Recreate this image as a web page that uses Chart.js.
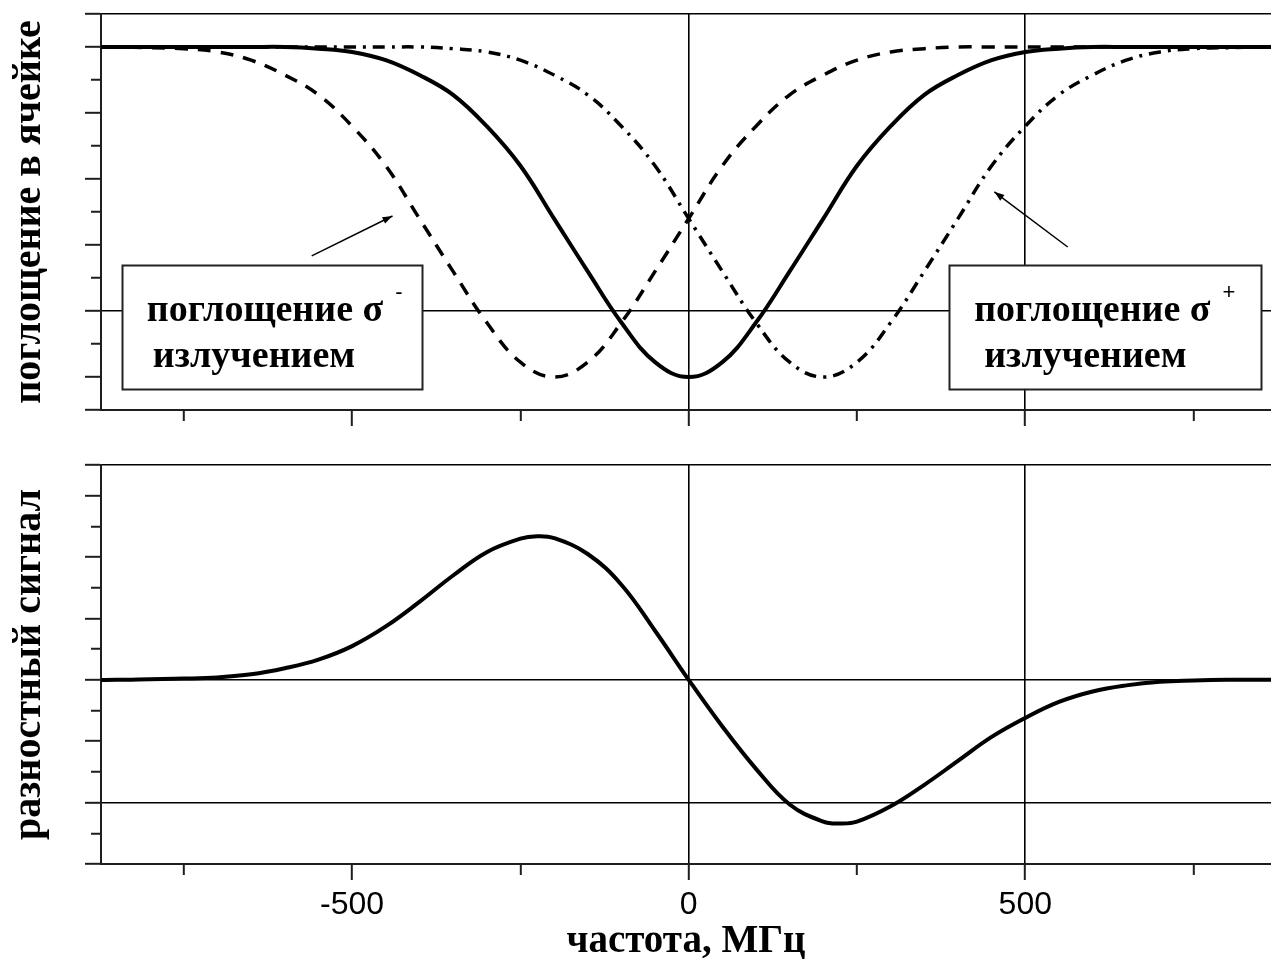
<!DOCTYPE html>
<html><head><meta charset="utf-8">
<script src="https://cdn.jsdelivr.net/npm/chart.js@4/dist/chart.umd.min.js"></script>
<style>
html,body{margin:0;padding:0;background:#fff;}
#wrap{position:relative;width:1271px;height:965px;overflow:hidden;background:#fff;}
#c1{position:absolute;left:0;top:0;}
#c2{position:absolute;left:0;top:440px;}
</style></head><body>
<div id="wrap"><canvas id="c1" width="1271" height="440"></canvas><canvas id="c2" width="1271" height="525"></canvas></div>
<script>
// ---- data ----
const freqs = [-900,-850,-800,-750,-700,-650,-600,-550,-500,-450,-400,-350,-300,-250,-200,-150,-100,-50,0,50,100,150,200,250,300,350,400,450,500,550,600,650,700,750,800,850,900];
const absSolid = [1,1,1,1,1,1,1,0.995,0.985,0.96,0.915,0.855,0.76,0.64,0.48,0.32,0.165,0.045,0,0.045,0.165,0.32,0.48,0.64,0.76,0.855,0.915,0.96,0.985,0.995,1,1,1,1,1,1,1];
const absSigmaMinus = [1,1,0.998,0.995,0.985,0.96,0.915,0.855,0.76,0.64,0.48,0.32,0.165,0.045,0,0.045,0.165,0.32,0.48,0.64,0.76,0.855,0.915,0.96,0.985,0.995,1,1,1,1,1,1,1,1,1,1,1];
const absSigmaPlus = [1,1,1,1,1,1,1,1,1,1,1,0.995,0.985,0.96,0.915,0.855,0.76,0.64,0.48,0.32,0.165,0.045,0,0.045,0.165,0.32,0.48,0.64,0.76,0.855,0.915,0.96,0.985,0.995,0.998,1,1];
const diffFreqs = [-900,-850,-800,-750,-700,-650,-600,-550,-500,-450,-400,-350,-300,-250,-225,-200,-150,-100,-50,0,50,100,150,200,225,250,300,350,400,450,500,550,600,650,700,750,800,850,900];
const diffSignal = [0,0,0.01,0.02,0.04,0.09,0.19,0.33,0.55,0.87,1.27,1.70,2.08,2.30,2.34,2.31,2.05,1.55,0.80,0,-0.76,-1.45,-2.03,-2.31,-2.34,-2.31,-2.06,-1.71,-1.32,-0.93,-0.62,-0.36,-0.19,-0.09,-0.03,-0.01,0,0,0];
const xTickValues = [-750, -500, -250, 0, 250, 500, 750];
const xTickLabels = [-500, 0, 500];
const xGridValues = [0, 500];
const xTitle = 'частота, МГц';
const yTitleTop = 'поглощение в ячейке';
const yTitleBottom = 'разностный сигнал';
const boxLine1 = 'поглощение σ';
const boxLine2 = 'излучением';

// ---- helpers ----
const pts = (xs, ys) => xs.map((x, i) => ({x, y: ys[i]}));
const X_MIN = -873, X_MAX = 865;
const AXIS = '#1e1e1e';
const CLEAR = 'rgba(0,0,0,0)';

function xScale(withLabels) {
  return {
    type: 'linear', min: X_MIN, max: X_MAX,
    afterBuildTicks: s => { s.ticks = xTickValues.map(v => ({value: v})); },
    afterFit: s => { s.height = withLabels ? 101 : 30; },
    border: {display: true, color: AXIS, width: 2},
    grid: {
      color: c => (c.tick && xGridValues.includes(c.tick.value)) ? '#000' : CLEAR,
      lineWidth: 1.6,
      drawTicks: true, tickLength: 16, tickColor: AXIS, tickWidth: 2,
      tickBorderDash: c => (c.tick && xTickLabels.includes(c.tick.value)) ? [] : [10, 100]
    },
    ticks: {
      display: withLabels, autoSkip: false,
      maxRotation: 0, minRotation: 0, padding: 6, color: '#000',
      font: {family: 'Liberation Sans', size: 32},
      callback: v => xTickLabels.includes(v) ? String(v) : ''
    },
    title: withLabels ? {
      display: true, text: xTitle, color: '#000',
      font: {family: 'Liberation Serif', weight: 'bold', size: 39},
      padding: {top: 0, bottom: 0}
    } : {display: false}
  };
}

function yScale(min, max, step, title, isGrid, isMajor) {
  return {
    type: 'linear', min, max,
    afterFit: s => { s.width = 101; },
    border: {display: true, color: AXIS, width: 2},
    grid: {
      color: c => (c.tick && isGrid(c.tick.value)) ? '#000' : CLEAR,
      lineWidth: 1.6,
      drawTicks: true, tickLength: 16, tickColor: AXIS, tickWidth: 2,
      tickBorderDash: c => (c.tick && isMajor(c.tick.value)) ? [] : [0, 6, 10, 100]
    },
    ticks: {display: false, stepSize: step, includeBounds: true},
    title: {
      display: true, text: title, color: '#000',
      font: {family: 'Liberation Serif', weight: 'bold', size: 40},
      padding: {top: 6, bottom: 0}
    }
  };
}

// annotation boxes in data coordinates
const annotations = [
  {box: [-842, 0.339, -396, -0.036], sup: '-', indent: [25, 31], arrow: [-560, 0.367, -440, 0.488]},
  {box: [387, 0.339, 851, -0.036], sup: '+', indent: [25, 35], arrow: [563, 0.394, 454, 0.561]}
];

const boxPlugin = {
  id: 'boxes',
  afterDatasetsDraw(chart) {
    const {ctx} = chart;
    const x = chart.scales.x, y = chart.scales.y;
    ctx.save();
    for (const a of annotations) {
      const ax0 = x.getPixelForValue(a.arrow[0]), ay0 = y.getPixelForValue(a.arrow[1]);
      const ax1 = x.getPixelForValue(a.arrow[2]), ay1 = y.getPixelForValue(a.arrow[3]);
      ctx.strokeStyle = '#000'; ctx.lineWidth = 1.5;
      ctx.beginPath(); ctx.moveTo(ax0, ay0); ctx.lineTo(ax1, ay1); ctx.stroke();
      const ang = Math.atan2(ay1 - ay0, ax1 - ax0);
      const L = 10, W = 3.5;
      ctx.beginPath(); ctx.moveTo(ax1, ay1);
      ctx.lineTo(ax1 - L * Math.cos(ang) + W * Math.sin(ang), ay1 - L * Math.sin(ang) - W * Math.cos(ang));
      ctx.lineTo(ax1 - L * Math.cos(ang) - W * Math.sin(ang), ay1 - L * Math.sin(ang) + W * Math.cos(ang));
      ctx.closePath(); ctx.fillStyle = '#000'; ctx.fill();

      const bx0 = x.getPixelForValue(a.box[0]), by0 = y.getPixelForValue(a.box[1]);
      const bx1 = x.getPixelForValue(a.box[2]), by1 = y.getPixelForValue(a.box[3]);
      ctx.fillStyle = '#fff';
      ctx.fillRect(bx0, by0, bx1 - bx0, by1 - by0);
      ctx.lineWidth = 2; ctx.strokeStyle = '#222';
      ctx.strokeRect(Math.round(bx0) + 0.5, Math.round(by0) + 0.5, Math.round(bx1 - bx0), Math.round(by1 - by0));

      ctx.fillStyle = '#000';
      ctx.textAlign = 'left'; ctx.textBaseline = 'alphabetic';
      ctx.font = 'bold 38px "Liberation Serif"';
      ctx.fillText(boxLine1, bx0 + a.indent[0], by0 + 56);
      const w = ctx.measureText(boxLine1).width;
      ctx.fillText(boxLine2, bx0 + a.indent[1], by0 + 102);
      ctx.font = '22px "Liberation Sans"';
      ctx.fillText(a.sup, bx0 + a.indent[0] + w + 12, by0 + 34);
    }
    ctx.restore();
  }
};

const common = {
  responsive: false, animation: false, events: [],
  plugins: {legend: {display: false}, tooltip: {enabled: false}},
  elements: {point: {radius: 0}, line: {tension: 0.4}}
};

new Chart(document.getElementById('c1'), {
  type: 'line',
  data: {datasets: [
    {label: 'σ- absorption', data: pts(freqs, absSigmaMinus), borderColor: '#000', borderWidth: 3.5, borderDash: [13, 10], fill: false},
    {label: 'σ+ absorption', data: pts(freqs, absSigmaPlus), borderColor: '#000', borderWidth: 3.5, borderDash: [12, 7, 3, 7], fill: false},
    {label: 'absorption', data: pts(freqs, absSolid), borderColor: '#000', borderWidth: 4, fill: false}
  ]},
  options: Object.assign({}, common, {
    layout: {padding: {top: 14, left: 0, right: 0, bottom: 0}},
    scales: {
      x: xScale(false),
      y: yScale(-0.1, 1.1, 0.1, yTitleTop,
        v => [-1, 2, 11].includes(Math.round(v * 10)),
        v => { const k = Math.round(v * 10); return k % 2 === 0 || k === -1 || k === 11; })
    }
  }),
  plugins: [boxPlugin]
});

new Chart(document.getElementById('c2'), {
  type: 'line',
  data: {datasets: [
    {label: 'difference', data: pts(diffFreqs, diffSignal), borderColor: '#000', borderWidth: 4, fill: false}
  ]},
  options: Object.assign({}, common, {
    layout: {padding: {top: 25, left: 0, right: 0, bottom: 0}},
    scales: {
      x: xScale(true),
      y: yScale(-3, 3.5, 0.5, yTitleBottom,
        v => [-6, -4, 0, 7].includes(Math.round(v * 2)),
        v => { const k = Math.round(v * 2); return k % 2 === 0 || k === 7; })
    }
  })
});
</script>
</body></html>
